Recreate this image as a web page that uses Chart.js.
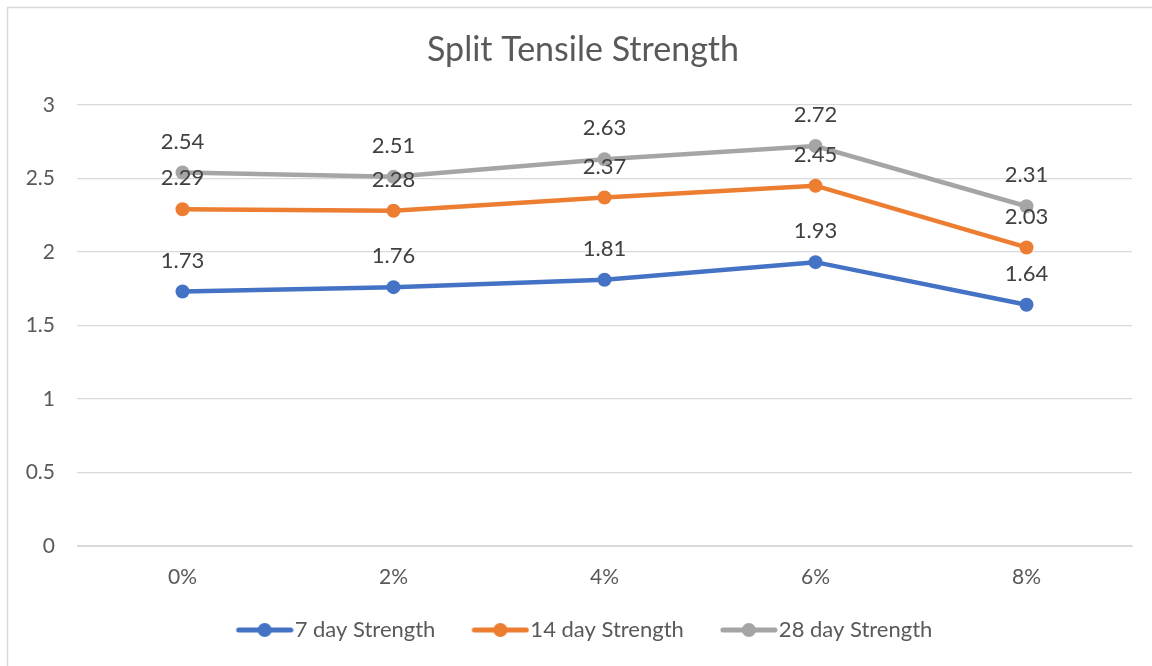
<!DOCTYPE html>
<html>
<head>
<meta charset="utf-8">
<script src="https://cdn.jsdelivr.net/npm/chart.js@4.4.1/dist/chart.umd.min.js"></script>
<style>
html,body{margin:0;padding:0;background:#fff;}
#wrap{width:1152px;height:666px;position:relative;}
</style>
</head>
<body>
<div id="wrap"><canvas id="c" width="1152" height="666"></canvas></div>
<script>
const categories = ["0%", "2%", "4%", "6%", "8%"];
const strength7 = [1.73, 1.76, 1.81, 1.93, 1.64];
const strength14 = [2.29, 2.28, 2.37, 2.45, 2.03];
const strength28 = [2.54, 2.51, 2.63, 2.72, 2.31];
const seriesNames = ["7 day Strength", "14 day Strength", "28 day Strength"];
const yTicks = [0, 0.5, 1, 1.5, 2, 2.5, 3];

const colors = ["#4472C4", "#ED7D31", "#A5A5A5"];
const FONT = "Lato, 'Open Sans', sans-serif";
const LEG_BOX = 64;          // legend box width
const LEG_CANVAS = LEG_BOX + 20;

function legendIcon(color) {
  const cv = document.createElement('canvas');
  cv.width = LEG_CANVAS; cv.height = 16;
  const g = cv.getContext('2d');
  const x1 = LEG_CANVAS - 3, x0 = LEG_CANVAS - 55, xc = (x0 + x1) / 2;
  g.strokeStyle = color; g.lineWidth = 5; g.lineCap = 'round';
  g.beginPath(); g.moveTo(x0, 8); g.lineTo(x1, 8); g.stroke();
  g.fillStyle = color;
  g.beginPath(); g.arc(xc, 8, 7, 0, Math.PI * 2); g.fill();
  return cv;
}

const frame = {
  id: 'frame',
  beforeDraw(chart) {
    const ctx = chart.ctx;
    ctx.save();
    ctx.fillStyle = '#fff';
    ctx.fillRect(0, 0, chart.width, chart.height);
    ctx.strokeStyle = '#D9D9D9';
    ctx.lineWidth = 1.5;
    ctx.beginPath();
    ctx.moveTo(7.5, 700); ctx.lineTo(7.5, 7.5); ctx.lineTo(1200, 7.5);
    ctx.stroke();
    ctx.restore();
  }
};

const shiftBoxes = {
  id: 'shiftBoxes',
  afterLayout(chart) {
    if (chart.titleBlock) { chart.titleBlock.left += 17; chart.titleBlock.right += 17; }
    if (chart.legend) { chart.legend.left += 10; chart.legend.right += 10; }
  }
};

const dataLabels = {
  id: 'dataLabels',
  afterDatasetsDraw(chart) {
    const ctx = chart.ctx;
    ctx.save();
    ctx.font = "22px " + FONT;
    ctx.fillStyle = '#404040';
    ctx.textAlign = 'center';
    ctx.textBaseline = 'middle';
    chart.data.datasets.forEach((ds, i) => {
      const meta = chart.getDatasetMeta(i);
      meta.data.forEach((el, j) => {
        ctx.fillText(ds.data[j].toFixed(2), el.x, el.y - 31);
      });
    });
    ctx.restore();
  }
};

const dataSets = [strength7, strength14, strength28].map((d, i) => ({
  label: seriesNames[i],
  data: d,
  borderColor: colors[i],
  backgroundColor: colors[i],
  borderWidth: 4.5,
  pointRadius: 7,
  pointHoverRadius: 7,
  pointBackgroundColor: colors[i],
  pointBorderWidth: 0,
  tension: 0,
  pointStyle: 'circle'
}));

new Chart(document.getElementById('c'), {
  type: 'line',
  data: { labels: categories, datasets: dataSets },
  options: {
    responsive: false,
    animation: false,
    devicePixelRatio: 1,
    layout: { padding: { left: 0, right: 20, top: 0, bottom: 15 } },
    plugins: {
      title: {
        display: true,
        text: 'Split Tensile Strength',
        color: '#595959',
        font: { family: FONT, size: 34, weight: 'normal' },
        padding: { top: 30, bottom: 34 }
      },
      legend: {
        position: 'bottom',
        labels: {
          color: '#595959',
          font: { family: FONT, size: 22 },
          usePointStyle: true,
          pointStyleWidth: LEG_BOX,
          padding: 20,
          generateLabels(chart) {
            return chart.data.datasets.map((ds, i) => ({
              text: ds.label,
              fillStyle: colors[i],
              strokeStyle: colors[i],
              pointStyle: legendIcon(colors[i]),
              lineWidth: 0,
              hidden: false,
              datasetIndex: i,
              fontColor: '#595959'
            }));
          }
        }
      },
      tooltip: { enabled: false }
    },
    scales: {
      x: {
        offset: true,
        grid: { display: false, drawTicks: false },
        border: { display: true, color: '#D9D9D9', width: 1 },
        ticks: { color: '#595959', font: { family: FONT, size: 21 }, padding: 19 },
        afterFit(scale) { scale.height = 53; }
      },
      y: {
        min: 0, max: 3,
        afterBuildTicks(scale) { scale.ticks = yTicks.map(v => ({ value: v })); },
        grid: { color: '#D9D9D9', lineWidth: 1.3, drawTicks: false },
        border: { display: false },
        ticks: { color: '#595959', font: { family: FONT, size: 21 }, padding: 22,
          callback: v => String(v) },
        afterFit(scale) { scale.width = 77; }
      }
    }
  },
  plugins: [frame, shiftBoxes, dataLabels]
});
</script>
</body>
</html>
